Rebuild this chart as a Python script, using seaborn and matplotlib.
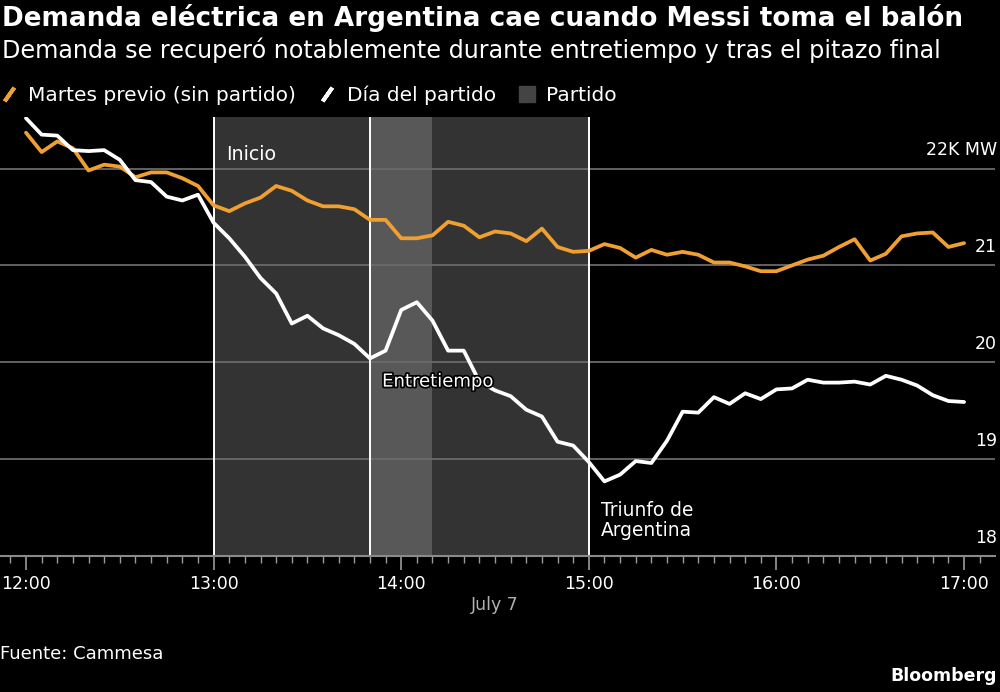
import matplotlib
matplotlib.use("Agg")
import matplotlib.pyplot as plt
import matplotlib.patheffects as pe
from matplotlib.lines import Line2D
from matplotlib.ticker import MultipleLocator
import seaborn as sns
import numpy as np
import pandas as pd

# Demand data, thousands of MW, every 5 minutes from 12:00 to 17:00
minutos = list(range(0, 301, 5))
martes_previo = [
    22.37, 22.17, 22.28, 22.21, 21.98, 22.04, 22.02, 21.91, 21.96, 21.96,
    21.90, 21.82, 21.62, 21.56, 21.64, 21.70, 21.82, 21.77, 21.67, 21.61,
    21.61, 21.58, 21.47, 21.47, 21.28, 21.28, 21.31, 21.45, 21.41, 21.29,
    21.35, 21.33, 21.25, 21.38, 21.19, 21.14, 21.15, 21.22, 21.18, 21.08,
    21.16, 21.11, 21.14, 21.11, 21.03, 21.03, 20.99, 20.94, 20.94, 21.00,
    21.06, 21.10, 21.19, 21.27, 21.05, 21.12, 21.30, 21.33, 21.34, 21.19,
    21.23,
]
dia_partido = [
    22.52, 22.35, 22.34, 22.19, 22.18, 22.19, 22.09, 21.88, 21.86, 21.71,
    21.67, 21.73, 21.44, 21.28, 21.09, 20.87, 20.71, 20.40, 20.48, 20.35,
    20.28, 20.19, 20.04, 20.12, 20.54, 20.62, 20.43, 20.12, 20.12, 19.80,
    19.71, 19.65, 19.51, 19.44, 19.18, 19.14, 18.97, 18.77, 18.84, 18.98,
    18.96, 19.19, 19.49, 19.48, 19.64, 19.57, 19.68, 19.62, 19.72, 19.73,
    19.82, 19.79, 19.79, 19.80, 19.77, 19.86, 19.82, 19.76, 19.66, 19.60,
    19.59,
]

serie_nombres = ["Martes previo (sin partido)", "Día del partido"]
serie_colores = {"Martes previo (sin partido)": "#f0a030", "Día del partido": "#ffffff"}

# match periods (hours)
partido = (13.0, 15.0)
entretiempo = (13 + 50 / 60, 14 + 10 / 60)

ytick_vals = [18, 19, 20, 21, 22]
ytick_labels = ["18", "19", "20", "21", "22K MW"]
xtick_vals = [12, 13, 14, 15, 16, 17]
xtick_labels = ["12:00", "13:00", "14:00", "15:00", "16:00", "17:00"]

horas = [12 + m / 60 for m in minutos]
df = pd.DataFrame({
    "hora": horas * 2,
    "demanda": martes_previo + dia_partido,
    "serie": [serie_nombres[0]] * len(horas) + [serie_nombres[1]] * len(horas),
})

sns.set_theme(style="dark")
plt.rcParams["font.family"] = ["DejaVu Sans"]
plt.rcParams["figure.facecolor"] = "black"
plt.rcParams["axes.facecolor"] = "black"

fig = plt.figure(figsize=(10, 6.92), dpi=100)
ax = fig.add_axes([0.0, 1 - 556 / 692, 0.995, (556 - 117) / 692])

# shaded match window
ax.axvspan(*partido, color="#333333", lw=0, zorder=0)
ax.axvspan(*entretiempo, color="#585858", lw=0, zorder=0)
for xv in [partido[0], entretiempo[0], partido[1]]:
    ax.axvline(xv, color="white", lw=1.4, zorder=1)

sns.lineplot(data=df, x="hora", y="demanda", hue="serie", palette=serie_colores,
             linewidth=2.7, legend=False, ax=ax, zorder=3)

ax.set_xlim(11.8614, 17.165)
ax.set_ylim(18, 22.532)
ax.set_xlabel("")
ax.set_ylabel("")

# gridlines
ax.set_yticks(ytick_vals)
ax.yaxis.grid(True, color="#6a6a6a", lw=1.3)
ax.xaxis.grid(False)
ax.set_axisbelow(True)
ax.tick_params(axis="y", left=False, right=False, labelleft=False, labelright=False)
for v, lab in zip(ytick_vals, ytick_labels):
    ax.text(1.002, v + 0.19, lab, transform=ax.get_yaxis_transform(), ha="right",
            va="center", color="white", fontsize=12.5)

ax.set_xticks(xtick_vals)
ax.set_xticklabels(xtick_labels)
ax.xaxis.set_minor_locator(MultipleLocator(5 / 60))
ax.tick_params(axis="x", which="major", bottom=True, length=10, width=1.2,
               color="#9a9a9a", labelcolor="white", labelsize=12.5, pad=4)
ax.tick_params(axis="x", which="minor", bottom=True, length=5, width=1.0, color="#9a9a9a")
for s in ["top", "left", "right"]:
    ax.spines[s].set_visible(False)
ax.spines["bottom"].set_color("#8a8a8a")
ax.spines["bottom"].set_linewidth(1.5)

ax.text(14.5, -0.112, "July 7", transform=ax.get_xaxis_transform(), ha="center",
        va="center", color="#b0b0b0", fontsize=12.5)

# annotations
ax.text(13.066, 22.14, "Inicio", color="white", fontsize=13.7, va="center", ha="left", zorder=4)
ax.text(13.898, 19.80, "Entretiempo", color="white", fontsize=13, va="center", ha="left",
        zorder=5, path_effects=[pe.withStroke(linewidth=2.5, foreground="black")])
ax.text(15.065, 18.37, "Triunfo de\nArgentina", color="white", fontsize=13.4, va="center",
        ha="left", linespacing=1.05, zorder=4)

# legend
handles = [
    Line2D([], [], ls="none", marker=(2, 2, -35), markersize=12, markeredgewidth=2.8,
           color=serie_colores[serie_nombres[0]]),
    Line2D([], [], ls="none", marker=(2, 2, -35), markersize=12, markeredgewidth=2.8,
           color=serie_colores[serie_nombres[1]]),
    Line2D([], [], ls="none", marker="s", markersize=11, color="#444444"),
]
leg = fig.legend(handles, serie_nombres + ["Partido"], loc="center left",
                 bbox_to_anchor=(-0.016, 1 - 95 / 692), ncol=3, frameon=False,
                 fontsize=14.5, handlelength=0.7, handletextpad=0.6, columnspacing=1.2)
for t in leg.get_texts():
    t.set_color("white")

fig.text(0.002, 1 - 18 / 692, "Demanda eléctrica en Argentina cae cuando Messi toma el balón",
         color="white", fontsize=18.9, fontweight="bold", va="center", ha="left")
fig.text(0.002, 1 - 50 / 692, "Demanda se recuperó notablemente durante entretiempo y tras el pitazo final",
         color="white", fontsize=17.2, va="center", ha="left")
fig.text(0.0, 1 - 654 / 692, "Fuente: Cammesa", color="white", fontsize=13, va="center", ha="left")
fig.text(0.997, 1 - 676 / 692, "Bloomberg", color="white", fontsize=12.5, fontweight="bold",
         va="center", ha="right")

fig.savefig("out.png", dpi=100, facecolor="black")
